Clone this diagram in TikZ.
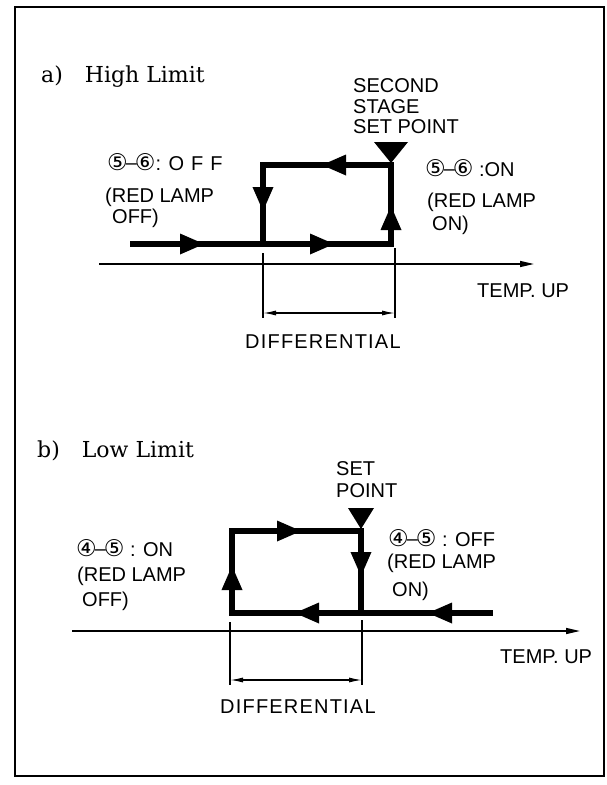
\documentclass[tikz,border=0pt]{standalone}
\usepackage{fontspec}
\setmainfont{Liberation Serif}
\setsansfont{Liberation Sans}
\newfontfamily\ringfont{DejaVu Sans}
\newfontfamily\headfont{DejaVu Serif}
\usetikzlibrary{arrows.meta,decorations.markings}
\newcommand{\ringed}[1]{{\ringfont\fontsize{23}{23}\selectfont #1}}
\newcommand{\terminals}[2]{\ringed{#1}\kern-2pt\raisebox{0.5pt}{--}\kern-2pt\ringed{#2}}
\tikzset{
  boxframe/.style={draw, line width=1.8pt},
  loopline/.style={line width=6pt, line cap=rect},
  tipat/.style={postaction={decorate}, decoration={markings,
    mark=at position #1 with {\arrow{Triangle[length=25pt,width=19pt]}}}},
  tempaxis/.style={line width=1.4pt, -{Triangle[length=14pt,width=6pt]}},
  guide/.style={line width=1.1pt},
  diffspan/.style={line width=1.3pt, {Latex[length=13pt,width=5pt]}-{Latex[length=13pt,width=5pt]}},
  lbl/.style={inner sep=0pt, anchor=base west, font=\sffamily\fontsize{20}{22}\selectfont},
  heading/.style={inner sep=0pt, anchor=base west, font=\headfont\fontsize{22}{24}\selectfont}
}
\begin{document}
\begin{tikzpicture}[x=1pt,y=-1pt]
  \useasboundingbox (0,0) rectangle (607,785);
  \draw[boxframe] (15,7) rectangle (604,776);

  % a) high limit
  \node[heading] (heada) at (41,82) {a)\quad High Limit};
  \node[lbl] (seta1) at (353,92) {SECOND};
  \node[lbl] (seta2) at (353,113) {STAGE};
  \node[lbl] (seta3) at (353,133) {SET POINT};
  \node[lbl] (offa) at (107,170) {\terminals{⑤}{⑥}: {\addfontfeature{LetterSpace=35}OFF}};
  \node[lbl] (offa2) at (105,202) {(RED LAMP};
  \node[lbl] (offa3) at (112,223) {OFF)};
  \node[lbl] (ona) at (425,176) {\terminals{⑤}{⑥} :ON};
  \node[lbl] (ona2) at (427,207) {(RED LAMP};
  \node[lbl] (ona3) at (432,230) {ON)};

  \coordinate (a0) at (133,244);
  \coordinate (aL) at (263,244);
  \coordinate (aR) at (391,244);
  \coordinate (aRT) at (391,165);
  \coordinate (aLT) at (263,165);
  \draw[loopline, tipat=72pt] (a0) -- (aL);
  \draw[loopline, tipat=72pt] (aL) -- (aR);
  \draw[loopline, tipat=39pt] (aR) -- (aRT);
  \draw[loopline, tipat=70pt] (aRT) -- (aLT);
  \draw[loopline, tipat=47pt] (aLT) -- (aL);
  \fill[shift={(aRT)}] (-17,-23) -- (17,-23) -- (0,-2) -- cycle;

  \coordinate (axa0) at (99,264);
  \coordinate (axa1) at (534,264);
  \draw[tempaxis] (axa0) -- (axa1);
  \node[lbl] (tempa) at (477,297) {TEMP. UP};

  \coordinate (dla) at (263,253);
  \coordinate (dra) at (395,248);
  \coordinate (dla1) at (263,318);
  \coordinate (dra1) at (395,318);
  \coordinate (sla) at (263,313);
  \coordinate (sra) at (395,313);
  \draw[guide] (dla) -- (dla1);
  \draw[guide] (dra) -- (dra1);
  \draw[diffspan] (sla) -- (sra);
  \node[lbl] (diffa) at (245,348) {\addfontfeature{LetterSpace=6}DIFFERENTIAL};

  % b) low limit
  \node[heading] (headb) at (37,457) {b)\quad Low Limit};
  \node[lbl] (setb1) at (336,475) {SET};
  \node[lbl] (setb2) at (336,497) {POINT};
  \node[lbl] (onb) at (76,556) {\terminals{④}{⑤} : ON};
  \node[lbl] (onb2) at (77,581) {(RED LAMP};
  \node[lbl] (onb3) at (82,606) {OFF)};
  \node[lbl] (offb) at (388,546) {\terminals{④}{⑤} : OFF};
  \node[lbl] (offb2) at (387,568) {(RED LAMP};
  \node[lbl] (offb3) at (392,596) {ON)};

  \coordinate (b0) at (490,613);
  \coordinate (bR) at (361,613);
  \coordinate (bL) at (232,613);
  \coordinate (bLT) at (232,531);
  \coordinate (bRT) at (361,531);
  \draw[loopline, tipat=63pt] (b0) -- (bR);
  \draw[loopline, tipat=67pt] (bR) -- (bL);
  \draw[loopline, tipat=48pt] (bL) -- (bLT);
  \draw[loopline, tipat=70pt] (bLT) -- (bRT);
  \draw[loopline, tipat=46pt] (bRT) -- (bR);
  \fill[shift={(bRT)}] (-13,-23) -- (13,-23) -- (0,-2) -- cycle;

  \coordinate (axb0) at (72,631);
  \coordinate (axb1) at (580,631);
  \draw[tempaxis] (axb0) -- (axb1);
  \node[lbl] (tempb) at (500,663) {TEMP. UP};

  \coordinate (dlb) at (230,622);
  \coordinate (drb) at (362,620);
  \coordinate (dlb1) at (230,685);
  \coordinate (drb1) at (362,685);
  \coordinate (slb) at (230,680);
  \coordinate (srb) at (362,680);
  \draw[guide] (dlb) -- (dlb1);
  \draw[guide] (drb) -- (drb1);
  \draw[diffspan] (slb) -- (srb);
  \node[lbl] (diffb) at (220,713) {\addfontfeature{LetterSpace=6}DIFFERENTIAL};
\end{tikzpicture}
\end{document}
